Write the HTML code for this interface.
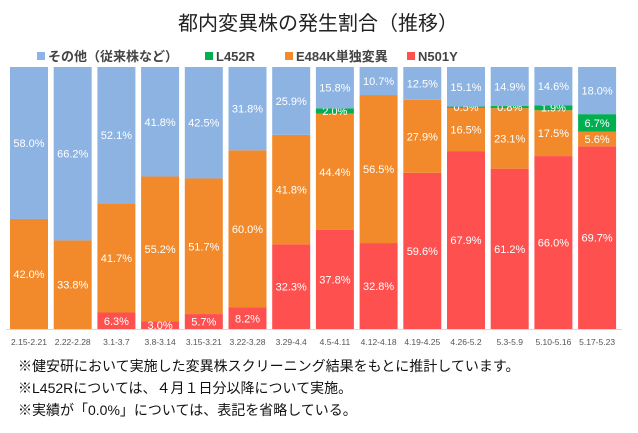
<!DOCTYPE html>
<html><head><meta charset="utf-8"><style>
body{margin:0;background:#fff;width:638px;height:433px;overflow:hidden;font-family:"Liberation Sans","Noto Sans CJK JP",sans-serif}
.note{position:absolute;left:18px;font-size:14px;color:#111}
</style></head><body>
<svg id="c" width="638" height="433" style="position:absolute;left:0;top:0">
<text x="318" y="30" text-anchor="middle" font-size="20" fill="#222" font-family="Noto Sans CJK JP,sans-serif">都内変異株の発生割合（推移）</text>
<g id="legend" font-size="13" font-weight="bold" fill="#444" font-family="Liberation Sans,Noto Sans CJK JP,sans-serif"></g>
<g id="bars"></g>
</svg>
<div class="note" style="top:356px">※健安研において実施した変異株スクリーニング結果をもとに推計しています。</div>
<div class="note" style="top:378px">※L452Rについては、４月１日分以降について実施。</div>
<div class="note" style="top:400px">※実績が「0.0%」については、表記を省略している。</div>
<script>
const categories=["2.15-2.21","2.22-2.28","3.1-3.7","3.8-3.14","3.15-3.21","3.22-3.28","3.29-4.4","4.5-4.11","4.12-4.18","4.19-4.25","4.26-5.2","5.3-5.9","5.10-5.16","5.17-5.23"];
const n501y=[0,0,6.3,3.0,5.7,8.2,32.3,37.8,32.8,59.6,67.9,61.2,66.0,69.7];
const e484k=[42.0,33.8,41.7,55.2,51.7,60.0,41.8,44.4,56.5,27.9,16.5,23.1,17.5,5.6];
const l452r=[0,0,0,0,0,0,0,2.0,0,0,0.5,0.8,1.9,6.7];
const other=[58.0,66.2,52.1,41.8,42.5,31.8,25.9,15.8,10.7,12.5,15.1,14.9,14.6,18.0];
const seriesNames=["その他（従来株など）","L452R","E484K単独変異","N501Y"];
const NS="http://www.w3.org/2000/svg";
const yTop=67,yBot=329,x0=10,pitch=43.7,bw=38;
const yS=v=>yBot-(v/100)*(yBot-yTop);
const xS=i=>x0+i*pitch;
const svg=document.getElementById('bars');
function mk(t,a){const e=document.createElementNS(NS,t);for(const k in a)e.setAttribute(k,a[k]);return e;}
const series=[[n501y,"#FF5050","n501y"],[e484k,"#F28A2B","e484k"],[l452r,"#00B050","l452r"],[other,"#8DB3E2","other"]];
categories.forEach((c,i)=>{
  let cum=0;
  const tot=n501y[i]+e484k[i]+l452r[i]+other[i];
  series.forEach(([arr,col,nm])=>{
    const v=arr[i];if(v<=0)return;
    const s=cum/tot*100,e=(cum+v)/tot*100;cum+=v;
    const r=mk('rect',{x:xS(i),y:yS(e),width:bw,height:yS(s)-yS(e),fill:col});
    
    
    svg.appendChild(r);
    const ly=(yS(s)+yS(e))/2+4;
    const t=mk('text',{x:xS(i)+bw/2,y:ly,'text-anchor':'middle','font-size':11,fill:'#fff'});
    t.textContent=v.toFixed(1)+'%';
    
    
    svg.appendChild(t);
  });
  const t=mk('text',{x:xS(i)+bw/2,y:345,'text-anchor':'middle','font-size':8.5,fill:'#555'});
  t.textContent=c;
  
  
  svg.appendChild(t);
});
const ax=mk('line',{x1:6,x2:622,y1:yBot+0.5,y2:yBot+0.5,stroke:'#d9d9d9'});


svg.appendChild(ax);
const lg=document.getElementById('legend');
const lx=[37,205,285,407],lc=["#8DB3E2","#00B050","#F28A2B","#FF5050"];
seriesNames.forEach((n,k)=>{
  const r=mk('rect',{x:lx[k],y:52,width:8,height:8,fill:lc[k]});
  
  
  lg.appendChild(r);
  const t=mk('text',{x:lx[k]+11,y:61});
  t.textContent=n;
  
  
  lg.appendChild(t);
});
</script>
</body></html>
